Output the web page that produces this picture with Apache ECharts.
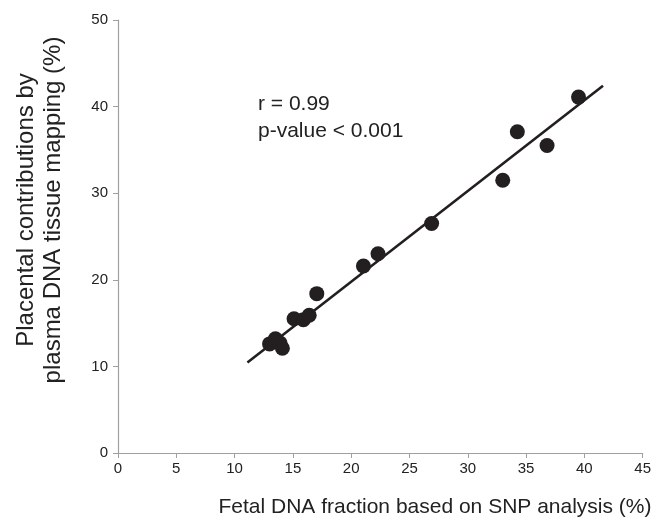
<!DOCTYPE html>
<html>
<head>
<meta charset="utf-8">
<script src="https://cdn.jsdelivr.net/npm/echarts@6/dist/echarts.min.js"></script>
<style>
  html, body { margin: 0; padding: 0; background: #fff; }
  #chart { width: 654px; height: 525px; }
</style>
</head>
<body>
<div id="chart"></div>
<script>
// fetal DNA fraction (SNP) vs placental contribution (tissue mapping)
var fetalFraction = [13.0, 13.5, 13.9, 14.1, 15.1, 15.9, 16.4, 17.05, 21.05, 22.3, 26.9, 33.0, 34.25, 36.8, 39.5]
var placentalContribution = [12.6, 13.2, 12.7, 12.1, 15.5, 15.4, 15.9, 18.4, 21.6, 23.0, 26.5, 31.5, 37.1, 35.5, 41.1]
// regression line end points
var fitX = [11.1, 41.6]
var fitY = [10.45, 42.4]
var xTicks = [0, 5, 10, 15, 20, 25, 30, 35, 40, 45]
var yTicks = [0, 10, 20, 30, 40, 50]

var font = 'Liberation Sans, Arial, sans-serif'
var ink = '#231f20'

var points = fetalFraction.map(function (x, i) { return [x, placentalContribution[i]] })
var fit = fitX.map(function (x, i) { return [x, fitY[i]] })

var chart = echarts.init(document.getElementById('chart'))
chart.setOption({
    animation: false,
    textStyle: { fontFamily: font },
    grid: { left: 118, right: 8, top: 20, bottom: 72 },
    xAxis: {
        type: 'value',
        min: xTicks[0],
        max: xTicks[xTicks.length - 1],
        interval: 5,
        axisLine: { lineStyle: { color: '#a0a0a0', width: 1.2 } },
        axisTick: { length: 5, lineStyle: { color: '#a0a0a0' } },
        axisLabel: { fontSize: 15, color: '#222', margin: 8, fontFamily: font },
        splitLine: { show: false }
    },
    yAxis: {
        type: 'value',
        min: yTicks[0],
        max: yTicks[yTicks.length - 1],
        interval: 10,
        axisLine: { show: true, lineStyle: { color: '#a0a0a0', width: 1.2 } },
        axisTick: { show: true, length: 5, lineStyle: { color: '#a0a0a0' } },
        axisLabel: { fontSize: 15, color: '#222', margin: 10, fontFamily: font },
        splitLine: { show: false }
    },
    graphic: [{
        type: 'text',
        left: 258,
        top: 91,
        style: {
            text: 'r = 0.99\np-value < 0.001',
            font: '21px ' + font,
            fill: '#222',
            lineHeight: 27
        }
    }, {
        // x axis title
        type: 'text',
        x: 435,
        y: 507,
        style: {
            text: 'Fetal DNA fraction based on SNP analysis (%)',
            font: '21px ' + font,
            fill: '#222',
            align: 'center',
            verticalAlign: 'middle'
        }
    }, {
        // y axis title
        type: 'text',
        x: 40,
        y: 210,
        rotation: Math.PI / 2,
        style: {
            text: 'Placental contributions by\nplasma DNA tissue mapping (%)',
            font: '24px ' + font,
            fill: '#222',
            align: 'center',
            verticalAlign: 'middle',
            lineHeight: 27
        }
    }],
    series: [{
        type: 'line',
        data: fit,
        symbol: 'none',
        lineStyle: { color: ink, width: 2.6 },
        z: 2
    }, {
        type: 'scatter',
        data: points,
        symbol: 'circle',
        symbolSize: 15,
        itemStyle: { color: ink, opacity: 1 },
        z: 3
    }]
})
</script>
</body>
</html>
